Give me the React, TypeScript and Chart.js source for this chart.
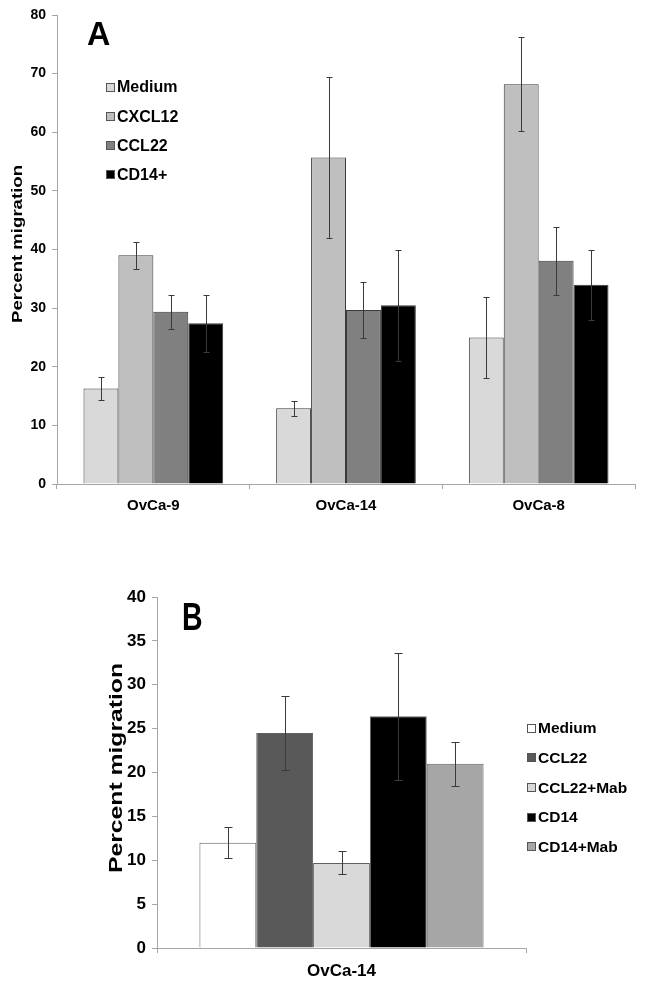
import React, { useEffect, useRef } from 'react';
import { Chart, registerables } from 'chart.js';

Chart.register(...registerables);

const FONT = '"Liberation Sans", Arial, Helvetica, sans-serif';

// ---------- Panel A data ----------
const categoriesA = ['OvCa-9', 'OvCa-14', 'OvCa-8'];
const seriesNamesA = ['Medium', 'CXCL12', 'CCL22', 'CD14+'];
const mediumA = [16.3, 12.9, 25.0];
const mediumErrA = [2.0, 1.3, 6.9];
const cxcl12A = [39.0, 55.7, 68.2];
const cxcl12ErrA = [2.3, 13.8, 8.0];
const ccl22A = [29.4, 29.7, 38.1];
const ccl22ErrA = [2.9, 4.8, 5.8];
const cd14A = [27.4, 30.5, 34.0];
const cd14ErrA = [4.8, 9.5, 6.0];
const yMaxA = 80;
const yStepA = 10;

// ---------- Panel B data ----------
const categoriesB = ['OvCa-14'];
const seriesNamesB = ['Medium', 'CCL22', 'CCL22+Mab', 'CD14', 'CD14+Mab'];
const valuesB = [12.0, 24.5, 9.7, 26.4, 21.0];
const errorsB = [1.8, 4.2, 1.3, 7.2, 2.5];
const yMaxB = 40;
const yStepB = 5;

const colorsA = ['#d9d9d9', '#bfbfbf', '#808080', '#000000'];
const colorsB = ['#ffffff', '#595959', '#d9d9d9', '#000000', '#a6a6a6'];

type OverlayOpts = {
  capHalf: number;
  legendX: number;
  legendY0: number;
  legendStep: number;
  legendFont: number;
  boxSize: number;
  letter: string;
  letterX: number;
  letterBase: number;
  letterFont: number;
  letterScale: number;
  titleX: number;
  titleY: number;
  titleFont: number;
  titleLen: number;
};

function makeOverlay(o: OverlayOpts) {
  return {
    id: 'overlay',
    afterDatasetsDraw(chart: any) {
      const ctx = chart.ctx;
      const yScale = chart.scales.y;
      ctx.save();
      ctx.strokeStyle = '#3a3a3a';
      ctx.lineWidth = 1;
      chart.data.datasets.forEach((ds: any, di: number) => {
        const meta = chart.getDatasetMeta(di);
        meta.data.forEach((el: any, i: number) => {
          const v = ds.data[i];
          const e = ds.errors[i];
          const x = Math.round(el.x) + 0.5;
          const yt = Math.round(yScale.getPixelForValue(v + e)) + 0.5;
          const yb = Math.round(yScale.getPixelForValue(v - e)) + 0.5;
          ctx.beginPath();
          ctx.moveTo(x, yt);
          ctx.lineTo(x, yb);
          ctx.moveTo(x - o.capHalf, yt);
          ctx.lineTo(x + o.capHalf, yt);
          ctx.moveTo(x - o.capHalf, yb);
          ctx.lineTo(x + o.capHalf, yb);
          ctx.stroke();
        });
      });
      ctx.restore();
    },
    afterDraw(chart: any) {
      const ctx = chart.ctx;
      ctx.save();
      // legend
      ctx.font = `bold ${o.legendFont}px ${FONT}`;
      ctx.textBaseline = 'middle';
      ctx.textAlign = 'left';
      chart.data.datasets.forEach((ds: any, i: number) => {
        const cy = o.legendY0 + i * o.legendStep;
        const bx = o.legendX;
        const by = Math.round(cy - o.boxSize / 2);
        ctx.fillStyle = ds.backgroundColor;
        ctx.fillRect(bx, by, o.boxSize, o.boxSize);
        ctx.strokeStyle = '#555555';
        ctx.lineWidth = 1;
        ctx.strokeRect(bx + 0.5, by + 0.5, o.boxSize - 1, o.boxSize - 1);
        ctx.fillStyle = '#000000';
        ctx.fillText(ds.label, bx + o.boxSize + 2, cy + 1);
      });
      // panel letter
      ctx.save();
      ctx.translate(o.letterX, o.letterBase);
      ctx.scale(o.letterScale, 1);
      ctx.font = `bold ${o.letterFont}px ${FONT}`;
      ctx.textBaseline = 'alphabetic';
      ctx.textAlign = 'left';
      ctx.fillStyle = '#000';
      ctx.fillText(o.letter, 0, 0);
      ctx.restore();
      // y title
      ctx.save();
      ctx.translate(o.titleX, o.titleY);
      ctx.rotate(-Math.PI / 2);
      ctx.font = `bold ${o.titleFont}px ${FONT}`;
      const w = ctx.measureText('Percent migration').width;
      ctx.scale(o.titleLen / w, 1);
      ctx.textAlign = 'center';
      ctx.textBaseline = 'middle';
      ctx.fillStyle = '#000';
      ctx.fillText('Percent migration', 0, 0);
      ctx.restore();
      ctx.restore();
    },
  };
}

function axisOptions(
  yMax: number,
  yStep: number,
  tickFont: number,
  xFont: number,
  yWidth: number,
  xHeight: number,
  xPad: number
) {
  const axisColor = '#a6a6a6';
  return {
    x: {
      grid: { display: true, drawOnChartArea: false, drawTicks: true, tickLength: 5, color: axisColor, offset: true },
      border: { display: true, color: axisColor, width: 1 },
      ticks: { color: '#000', font: { family: FONT, size: xFont, weight: 'bold' }, padding: xPad, maxRotation: 0 },
      afterFit: (s: any) => {
        s.height = xHeight;
      },
    },
    y: {
      min: 0,
      max: yMax,
      grid: { display: true, drawOnChartArea: false, drawTicks: true, tickLength: 5, color: axisColor },
      border: { display: true, color: axisColor, width: 1 },
      ticks: { stepSize: yStep, color: '#000', font: { family: FONT, size: tickFont, weight: 'bold' }, padding: 6 },
      afterFit: (s: any) => {
        s.width = yWidth;
      },
    },
  };
}

function ChartCanvas({ config, width, height, top }: { config: () => any; width: number; height: number; top: number }) {
  const ref = useRef<HTMLCanvasElement | null>(null);
  useEffect(() => {
    if (!ref.current) return;
    const chart = new Chart(ref.current, config());
    return () => chart.destroy();
  }, []);
  return (
    <canvas
      ref={ref}
      width={width}
      height={height}
      style={{ position: 'absolute', left: 0, top, width, height, display: 'block' }}
    />
  );
}

const configA = () => {
  const vals = [mediumA, cxcl12A, ccl22A, cd14A];
  const errs = [mediumErrA, cxcl12ErrA, ccl22ErrA, cd14ErrA];
  return {
    type: 'bar',
    data: {
      labels: categoriesA,
      datasets: seriesNamesA.map((name, i) => ({
        label: name,
        data: vals[i],
        errors: errs[i],
        backgroundColor: colorsA[i],
        borderColor: '#3a3a3a',
        borderWidth: 1,
        categoryPercentage: 0.725,
        barPercentage: 1.0,
      })),
    },
    options: {
      responsive: false,
      animation: false,
      devicePixelRatio: 1,
      layout: { padding: { left: 0, right: 10, top: 15, bottom: 0 } },
      plugins: { legend: { display: false }, tooltip: { enabled: false }, title: { display: false } },
      scales: axisOptions(yMaxA, yStepA, 14, 15, 57, 56, 8),
    },
    plugins: [
      makeOverlay({
        capHalf: 3,
        legendX: 106,
        legendY0: 87,
        legendStep: 29.3,
        legendFont: 16,
        boxSize: 9,
        letter: 'A',
        letterX: 87,
        letterBase: 45,
        letterFont: 34,
        letterScale: 0.95,
        titleX: 18,
        titleY: 244,
        titleFont: 15,
        titleLen: 158,
      }),
    ],
  };
};

const configB = () => ({
  type: 'bar',
  data: {
    labels: categoriesB,
    datasets: seriesNamesB.map((name, i) => ({
      label: name,
      data: [valuesB[i]],
      errors: [errorsB[i]],
      backgroundColor: colorsB[i],
      borderColor: '#606060',
      borderWidth: 1,
      categoryPercentage: 0.77,
      barPercentage: 1.0,
    })),
  },
  options: {
    responsive: false,
    animation: false,
    devicePixelRatio: 1,
    layout: { padding: { left: 0, right: 119, top: 37, bottom: 0 } },
    plugins: { legend: { display: false }, tooltip: { enabled: false }, title: { display: false } },
    scales: axisOptions(yMaxB, yStepB, 17, 17, 157, 41, 8),
  },
  plugins: [
    makeOverlay({
      capHalf: 4,
      legendX: 527,
      legendY0: 168,
      legendStep: 29.7,
      legendFont: 15.5,
      boxSize: 9,
      letter: 'B',
      letterX: 182,
      letterBase: 70,
      letterFont: 39,
      letterScale: 0.73,
      titleX: 117,
      titleY: 208,
      titleFont: 18,
      titleLen: 210,
    }),
  ],
});

export default function App() {
  return (
    <div style={{ position: 'absolute', left: 0, top: 0, width: 645, height: 989, background: '#fff', overflow: 'hidden' }}>
      <ChartCanvas config={configA} width={645} height={540} top={0} />
      <ChartCanvas config={configB} width={645} height={429} top={560} />
    </div>
  );
}
